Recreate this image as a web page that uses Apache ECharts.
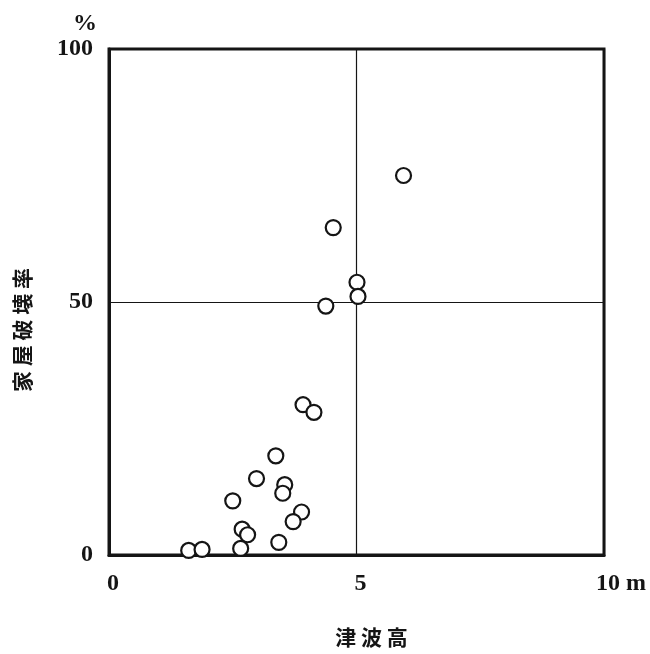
<!DOCTYPE html>
<html>
<head>
<meta charset="utf-8">
<script src="https://cdn.jsdelivr.net/npm/echarts@6/dist/echarts.min.js"></script>
<style>
  html, body { margin: 0; padding: 0; background: #fff; }
  #chart { width: 650px; height: 654px; }
</style>
</head>
<body>
<div id="chart"></div>
<script>
// 津波高 (m) と 家屋破壊率 (%)
const waveHeight = [5.95, 4.53, 5.01, 5.03, 4.38, 3.92, 4.14, 3.37, 2.98, 3.55,
                    3.51, 2.50, 3.89, 3.72, 2.69, 2.80, 3.43, 2.66, 1.61, 1.88];
const damageRate = [75.0, 64.7, 53.9, 51.1, 49.2, 29.7, 28.2, 19.6, 15.1, 13.9,
                    12.2, 10.7, 8.5, 6.6, 5.1, 4.0, 2.5, 1.3, 0.9, 1.1];
const xTicks = [0, 5, 10];
const yTicks = [0, 50, 100];

const ink = "#151515";
const numFont = "Liberation Serif";
const cjkFont = "Noto Sans CJK JP";

const chart = echarts.init(document.getElementById("chart"));

const points = waveHeight.map((h, i) => [h, damageRate[i]]);

const option = {
  backgroundColor: "#fff",
  animation: false,
  grid: {
    left: 109,
    right: 46,
    top: 49,
    bottom: 99,
    show: true,
    borderColor: ink,
    borderWidth: 3
  },
  xAxis: {
    type: "value",
    min: xTicks[0],
    max: xTicks[xTicks.length - 1],
    interval: 5,
    name: "津 波 高",
    nameLocation: "middle",
    nameGap: 72,
    nameTextStyle: {
      color: ink,
      fontFamily: cjkFont,
      fontWeight: "bold",
      fontSize: 21,
      padding: [0, 0, 0, 30]
    },
    axisLine: { show: true, lineStyle: { color: ink, width: 3 } },
    axisTick: { show: false },
    splitLine: { show: true, lineStyle: { color: ink, width: 1.2 } },
    axisLabel: {
      margin: 17,
      color: ink,
      fontFamily: numFont,
      fontWeight: "bold",
      fontSize: 24,
      padding: [0, 0, 0, 8],
      formatter: v => (v === 10 ? "{pad| }10{u| m}" : String(v)),
      rich: {
        pad: { width: 26, fontFamily: numFont, fontSize: 24 },
        u: { color: ink, fontFamily: numFont, fontWeight: "bold", fontSize: 24 }
      }
    }
  },
  yAxis: {
    type: "value",
    min: yTicks[0],
    max: yTicks[yTicks.length - 1],
    interval: 50,
    name: "家 屋 破 壊 率",
    nameLocation: "middle",
    nameGap: 76,
    nameTextStyle: {
      color: ink,
      fontFamily: cjkFont,
      fontWeight: "bold",
      fontSize: 21,
      padding: [0, 56, 0, 0]
    },
    axisLine: { show: true, lineStyle: { color: ink, width: 3 } },
    axisTick: { show: false },
    splitLine: { show: true, lineStyle: { color: ink, width: 1.2 } },
    axisLabel: {
      margin: 16,
      color: ink,
      fontFamily: numFont,
      fontWeight: "bold",
      fontSize: 24,
      padding: [6, 0, 0, 0]
    }
  },
  graphic: [
    {
      type: "text",
      left: 73,
      top: 12,
      style: {
        text: "%",
        fill: ink,
        font: "bold 24px " + numFont
      }
    }
  ],
  series: [
    {
      type: "scatter",
      data: points,
      symbol: "circle",
      symbolSize: 15,
      itemStyle: {
        color: "#fff",
        borderColor: ink,
        borderWidth: 2.2,
        opacity: 1
      }
    }
  ]
};

chart.setOption(option);
window.addEventListener("resize", () => chart.resize());
</script>
</body>
</html>
